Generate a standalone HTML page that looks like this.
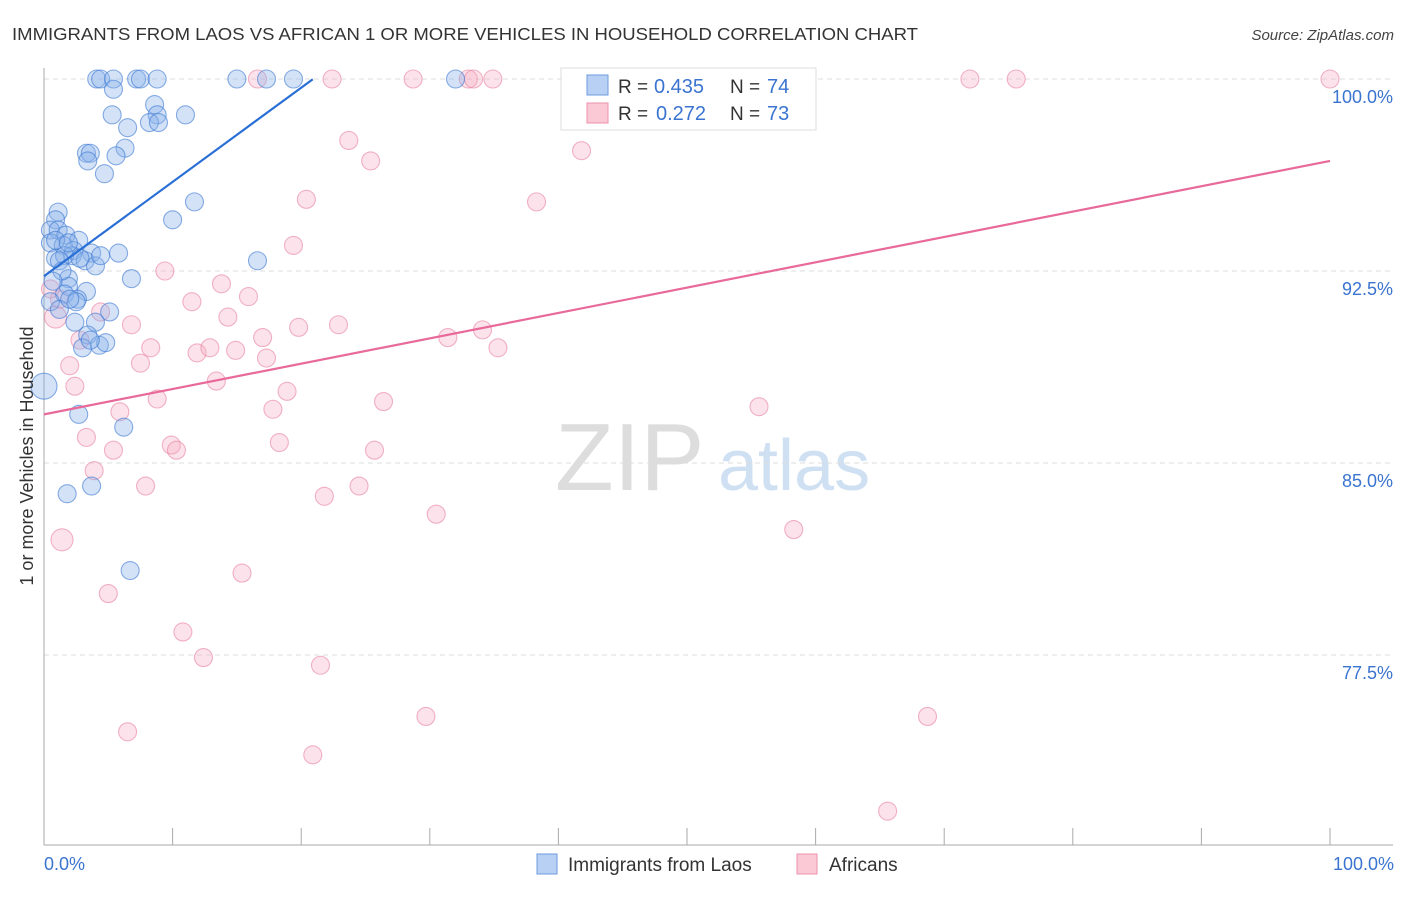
<!DOCTYPE html>
<html><head><meta charset="utf-8"><style>
body{margin:0;background:#fff;font-family:"Liberation Sans",sans-serif}
svg text{font-family:"Liberation Sans",sans-serif}
</style></head><body>
<svg id="chart" width="1406" height="892" viewBox="0 0 1406 892" xmlns="http://www.w3.org/2000/svg">
<text x="12" y="40" font-size="17.5" fill="#333" textLength="906" lengthAdjust="spacingAndGlyphs">IMMIGRANTS FROM LAOS VS AFRICAN 1 OR MORE VEHICLES IN HOUSEHOLD CORRELATION CHART</text>
<text x="1394" y="40" font-size="15" fill="#444" text-anchor="end" font-style="italic">Source: ZipAtlas.com</text>
<g>
<text x="555" y="490" font-size="96" fill="#ddd" font-family="Liberation Serif,serif">ZIP</text>
<text x="718" y="490" font-size="72" fill="#cfe0f3">atlas</text>
</g>
<g id="grid"></g>
<g id="axes"></g>
<g id="pts"></g>
<g id="lines"></g>
<text transform="translate(33,456) rotate(-90)" font-size="18" fill="#333" text-anchor="middle">1 or more Vehicles in Household</text>
<text x="44" y="870" font-size="18" fill="#3a74d0">0.0%</text>
<text x="1394" y="870" font-size="18" fill="#3a74d0" text-anchor="end">100.0%</text>
<g>
<rect x="561" y="68" width="255" height="62" fill="#fff" stroke="#ddd"/>
<rect x="587" y="75" width="21" height="20" fill="#b7d0f3" stroke="#6d9be0"/>
<rect x="587" y="103" width="21" height="20" fill="#fbc8d6" stroke="#ee8fab"/>
<text x="618" y="93" font-size="19" fill="#333">R =</text>
<text x="654" y="93" font-size="20" fill="#3a74d0">0.435</text>
<text x="730" y="93" font-size="19" fill="#333">N =</text>
<text x="767" y="93" font-size="20" fill="#3a74d0">74</text>
<text x="618" y="120" font-size="19" fill="#333">R =</text>
<text x="656" y="120" font-size="20" fill="#3a74d0">0.272</text>
<text x="730" y="120" font-size="19" fill="#333">N =</text>
<text x="767" y="120" font-size="20" fill="#3a74d0">73</text>
</g>
<g>
<rect x="537" y="854" width="20" height="20" fill="#b7d0f3" stroke="#6d9be0"/>
<text x="568" y="871" font-size="19" fill="#333">Immigrants from Laos</text>
<rect x="797" y="854" width="20" height="20" fill="#fbc8d6" stroke="#ee8fab"/>
<text x="829" y="871" font-size="19" fill="#333">Africans</text>
</g>
</svg>
<script>
const yTicks=[100,92.5,85,77.5];
const yTickLabels=["100.0%","92.5%","85.0%","77.5%"];
const xTicks=[0,10,20,30,40,50,60,70,80,90,100];
const blueX=[4.1,4.4,5.4,7.2,7.5,8.8,15.0,17.3,19.4,32.0,5.4,5.3,8.6,8.8,11.0,6.5,8.2,8.9,6.3,3.3,3.6,5.6,3.4,4.7,11.7,10.0,1.1,0.9,0.5,1.1,1.7,0.5,2.7,1.5,2.3,2.2,5.8,3.7,3.2,4.0,0.9,16.6,6.8,1.9,1.9,3.3,1.6,2.6,0.5,1.2,5.1,2.5,2.4,4.0,3.4,4.3,4.8,3.0,0,2.7,6.2,3.7,1.8,6.7,1.6,2.0,0.9,4.4,1.2,1.4,0.7,2.8,1.9,3.6];
const blueY=[100,100,100,100,100,100,100,100,100,100,99.6,98.6,99.0,98.6,98.6,98.1,98.3,98.3,97.3,97.1,97.1,97.0,96.8,96.3,95.2,94.5,94.8,94.5,94.1,94.1,93.9,93.6,93.7,93.5,93.3,93.1,93.2,93.2,92.9,92.7,93.0,92.9,92.2,92.2,91.9,91.7,91.6,91.4,91.3,91.0,90.9,91.3,90.5,90.5,90.0,89.6,89.7,89.5,88.0,86.9,86.4,84.1,83.8,80.8,93.1,91.4,93.7,93.1,92.9,92.5,92.1,93.0,93.6,89.8];
const pinkX=[0.9,1.4,2.0,2.4,3.3,3.9,5.0,5.4,5.9,6.5,6.8,7.5,7.9,8.3,8.8,9.4,9.9,10.3,10.8,11.5,11.9,12.4,12.9,13.4,13.8,14.3,14.9,15.4,15.9,16.6,17.0,17.3,17.8,18.3,18.9,19.4,19.8,20.4,20.9,21.5,21.8,22.4,22.9,23.7,24.5,25.4,25.7,26.4,28.7,29.7,30.5,31.4,33.0,33.4,34.1,34.9,35.3,38.3,41.8,42.5,52.4,55.6,58.3,59.1,65.6,68.7,72.0,75.6,100,2.8,4.4,1.2,0.5];
const pinkY=[90.7,82.0,88.8,88.0,86.0,84.7,79.9,85.5,87.0,74.5,90.4,88.9,84.1,89.5,87.5,92.5,85.7,85.5,78.4,91.3,89.3,77.4,89.5,88.2,92.0,90.7,89.4,80.7,91.5,100,89.9,89.1,87.1,85.8,87.8,93.5,90.3,95.3,73.6,77.1,83.7,100,90.4,97.6,84.1,96.8,85.5,87.4,100,75.1,83.0,89.9,100,100,90.2,100,89.5,95.2,97.2,100,100,87.2,82.4,100,71.4,75.1,100,100,100,89.8,90.9,91.4,91.8];
const blueTrend=[92.3,0.368,0,20.9];
const pinkTrend=[86.9,0.099,0,100];
const X0=44,X1=1330,Y100=79,PX=25.6;
const sx=v=>X0+(X1-X0)*v/100;
const sy=v=>Y100+(100-v)*PX;
const NS="http://www.w3.org/2000/svg";
function mk(tag,attrs,parent){const e=document.createElementNS(NS,tag);for(const k in attrs)e.setAttribute(k,attrs[k]);parent.appendChild(e);return e;}
const grid=document.getElementById('grid'),axes=document.getElementById('axes'),pts=document.getElementById('pts'),lines=document.getElementById('lines');
yTicks.forEach((t,i)=>{
 const l=mk('line',{x1:X0,x2:1393,y1:sy(t),y2:sy(t),stroke:'#ddd','stroke-dasharray':'5,4'},grid);
 
 
 const tx=mk('text',{x:1393,y:sy(t)+24,'font-size':18,fill:'#3a74d0','text-anchor':'end'},grid);
 tx.textContent=yTickLabels[i];
 
 
});
const ya=mk('line',{x1:X0,x2:X0,y1:68,y2:845,stroke:'#aaa'},axes);


const xa=mk('line',{x1:X0,x2:1393,y1:845,y2:845,stroke:'#aaa'},axes);


xTicks.forEach(t=>{
 const k=mk('line',{x1:sx(t),x2:sx(t),y1:828,y2:845,stroke:'#aaa'},axes);
 
 
});
function dots(xs,ys,fill,stroke,name){
 xs.forEach((x,i)=>{
  let r=9;
  if(x===0&&name==='laos-point')r=13;
  if(name==='africans-point'&&i<2)r=11;
  const c=mk('circle',{cx:sx(x),cy:sy(ys[i]),r:r,fill:fill,stroke:stroke,'stroke-width':1.1},pts);
  
  
 });
}
dots(pinkX,pinkY,'rgba(246,170,195,0.33)','rgba(232,130,160,0.6)','africans-point');
dots(blueX,blueY,'rgba(140,180,235,0.38)','rgba(60,120,210,0.6)','laos-point');
function trend(t,color,name){
 const l=mk('line',{x1:sx(t[2]),y1:sy(t[0]+t[1]*t[2]),x2:sx(t[3]),y2:sy(t[0]+t[1]*t[3]),stroke:color,'stroke-width':2.2},lines);
 
 
}
trend(blueTrend,'#2a6fd6','laos-trend-line');
trend(pinkTrend,'#e8699a','africans-trend-line');
</script>
</body></html>
